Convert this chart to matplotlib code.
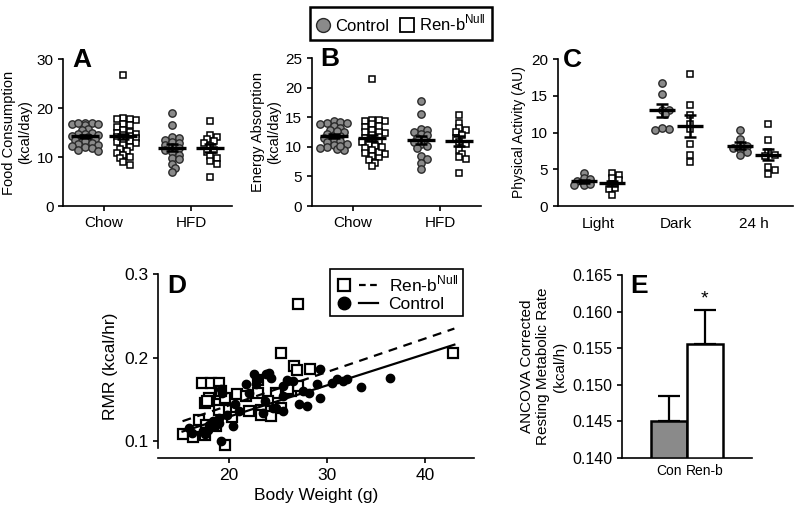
import numpy as np
import matplotlib
matplotlib.use("Agg")
import matplotlib.pyplot as plt
from matplotlib.lines import Line2D
from matplotlib.legend_handler import HandlerTuple

plt.rcParams["font.family"] = ["Liberation Sans", "DejaVu Sans"]
plt.rcParams["mathtext.fontset"] = "custom"
plt.rcParams["mathtext.rm"] = "Liberation Sans"
plt.rcParams["axes.linewidth"] = 1.2
plt.rcParams["xtick.major.width"] = 1.2
plt.rcParams["ytick.major.width"] = 1.2

# ---- data ----
diet_groups = ["Chow", "HFD"]
food_ctrl = [
    [17.0, 16.9, 16.8, 16.6, 16.7, 16.9, 15.8, 15.5, 15.0, 14.8, 14.6, 14.5, 14.2,
     14.0, 13.8, 13.7, 13.5, 13.2, 12.9, 12.7, 12.5, 12.3, 12.0, 11.8, 11.5, 11.2],
    [18.9, 16.5, 14.0, 13.8, 13.5, 13.0, 12.8, 12.5, 12.0, 11.8, 11.5, 11.0, 10.5,
     9.8, 9.5, 8.5, 7.8, 6.9],
]
food_renb = [
    [26.8, 17.9, 17.7, 17.5, 17.8, 16.5, 16.8, 16.2, 15.5, 15.2, 15.0, 14.8, 14.5,
     14.2, 14.0, 13.8, 13.5, 13.2, 13.0, 12.8, 12.5, 12.0, 11.6, 11.2, 10.8, 10.5,
     10.0, 9.7, 9.0, 8.4],
    [17.3, 14.5, 14.0, 13.6, 13.2, 12.8, 12.3, 11.5, 11.0, 10.2, 9.7, 9.2, 8.6, 6.0],
]
food_mean_ctrl = [14.2, 11.9]
food_sem_ctrl = [0.35, 0.7]
food_mean_renb = [14.2, 11.8]
food_sem_renb = [0.6, 0.8]

energy_ctrl = [
    [14.3, 14.2, 14.0, 14.1, 13.5, 13.2, 12.8, 12.5, 12.2, 12.0, 11.8, 11.5, 11.2,
     11.0, 10.8, 10.5, 10.3, 10.0, 9.8, 9.6, 9.5, 10.2, 12.6, 13.8],
    [17.8, 15.5, 13.0, 12.8, 12.5, 12.2, 12.0, 11.5, 11.2, 10.8, 10.5, 10.2, 9.8,
     8.5, 8.0, 7.3, 6.3],
]
energy_renb = [
    [21.5, 14.6, 14.4, 14.3, 14.5, 13.8, 13.3, 12.8, 12.5, 12.3, 12.0, 11.8, 11.5,
     11.2, 11.0, 10.8, 10.5, 10.2, 9.8, 9.5, 9.0, 8.8, 8.5, 8.2, 7.8, 7.3, 6.7, 9.2,
     10.0, 12.6, 13.5],
    [15.3, 14.0, 13.2, 12.8, 12.5, 12.0, 11.5, 10.8, 10.5, 9.5, 8.8, 8.2, 8.0, 5.5],
]
energy_mean_ctrl = [11.8, 11.2]
energy_sem_ctrl = [0.3, 0.7]
energy_mean_renb = [11.5, 11.0]
energy_sem_renb = [0.5, 0.8]

activity_groups = ["Light", "Dark", "24 h"]
activity_ctrl = [
    [4.5, 3.8, 3.7, 3.4, 3.0, 2.8, 2.9, 3.0],
    [16.8, 15.3, 13.0, 13.0, 12.5, 10.5, 10.6, 10.3],
    [10.3, 9.1, 8.3, 8.1, 7.9, 7.7, 7.3, 7.0],
]
activity_renb = [
    [4.5, 4.2, 3.8, 3.5, 3.0, 2.5, 2.3, 1.5],
    [18.0, 13.8, 12.4, 11.2, 10.5, 8.4, 7.0, 6.0],
    [11.2, 9.0, 7.3, 7.0, 6.8, 5.3, 4.9, 4.4],
]
activity_mean_ctrl = [3.4, 13.0, 8.2]
activity_sem_ctrl = [0.2, 0.9, 0.45]
activity_mean_renb = [3.1, 10.9, 7.0]
activity_sem_renb = [0.35, 1.45, 0.8]

renb_bw = [27.1, 25.3, 42.9, 26.7, 27.0, 28.3, 17.3, 18.2, 19.0, 23.0, 18.0, 17.6,
           19.1, 19.6, 20.9, 21.8, 23.0, 24.8, 26.4, 27.1, 24.0, 19.7, 19.0, 22.1,
           23.3, 25.3, 20.3, 23.3, 24.3, 17.0, 17.7, 18.7, 15.3, 16.4, 17.6, 19.6,
           19.2, 17.8, 26.0]
renb_rmr = [0.264, 0.206, 0.206, 0.190, 0.185, 0.186, 0.170, 0.170, 0.170, 0.173,
            0.152, 0.146, 0.156, 0.152, 0.156, 0.154, 0.158, 0.158, 0.160, 0.166,
            0.148, 0.138, 0.137, 0.136, 0.138, 0.140, 0.129, 0.132, 0.130, 0.126,
            0.120, 0.118, 0.109, 0.105, 0.108, 0.095, 0.160, 0.148, 0.162]
ctrl_bw = [29.3, 24.1, 23.8, 22.6, 24.3, 23.0, 25.9, 26.6, 21.8, 25.5, 19.2, 22.1,
           23.7, 25.5, 27.6, 28.2, 29.0, 30.5, 31.0, 31.7, 32.1, 36.4, 33.5, 29.3,
           27.2, 28.0, 20.6, 21.1, 24.5, 25.5, 23.5, 20.4, 19.0, 18.6, 17.4, 16.0,
           16.3, 17.6, 19.2, 19.8, 18.4, 19.3, 22.8, 24.8, 18.0, 17.9, 19.0]
ctrl_rmr = [0.186, 0.182, 0.180, 0.180, 0.176, 0.175, 0.173, 0.172, 0.168, 0.166,
            0.162, 0.158, 0.148, 0.154, 0.160, 0.158, 0.168, 0.170, 0.174, 0.172,
            0.174, 0.176, 0.165, 0.152, 0.145, 0.142, 0.144, 0.136, 0.140, 0.136,
            0.134, 0.118, 0.128, 0.118, 0.112, 0.116, 0.110, 0.109, 0.100, 0.132,
            0.124, 0.158, 0.168, 0.140, 0.120, 0.114, 0.122]
# regression lines (slope, intercept) and x range
renb_fit = (0.0040, 0.0628)
ctrl_fit = (0.00375, 0.0543)
fit_x = [15.3, 43.0]

ancova_groups = ["Con", "Ren-b"]
ancova_mean = [0.1451, 0.1556]
ancova_err = [0.0034, 0.0046]

GRAY = "#8a8a8a"
EDGE = "#2a2a2a"


def swarm_offsets(ax, y, diam_px, overlap=0.62, max_px=16):
    # simple beeswarm: place points top-down, nudging sideways until they stop piling up
    pts = ax.transData.transform(np.column_stack([np.zeros(len(y)), y]))
    ypx = pts[:, 1]
    order = np.argsort(-ypx)
    step = diam_px * 0.45
    min_d = diam_px * overlap
    placed = []
    off = np.zeros(len(y))
    for i in order:
        best = 0.0
        for k in range(200):
            cand = ((k + 1) // 2) * step * (1 if k % 2 else -1)
            if abs(cand) > max_px:
                break
            if all(np.hypot(cand - px, ypx[i] - py) >= min_d for px, py in placed):
                best = cand
                break
        off[i] = best
        placed.append((best, ypx[i]))
    ppu = ax.transData.transform((1, 0))[0] - ax.transData.transform((0, 0))[0]
    return off / ppu


def mean_sem(ax, x, m, s, half=0.15, cap=0.07):
    ax.hlines(m, x - half, x + half, color="black", lw=2.4, zorder=5)
    ax.vlines(x, m - s, m + s, color="black", lw=1.8, zorder=5)
    ax.hlines([m - s, m + s], x - cap, x + cap, color="black", lw=1.8, zorder=5)


def dot_panel(ax, ctrl, renb, mc, sc, mr, sr, shift, half, cap, msize, max_px):
    for i in range(len(ctrl)):
        xc = i - shift
        xr = i + shift
        dc = swarm_offsets(ax, ctrl[i], msize * 1.39, max_px=max_px)
        dr = swarm_offsets(ax, renb[i], msize * 1.39, max_px=max_px)
        ax.plot(xc + dc, ctrl[i], "o", ms=msize, mfc=GRAY, mec=EDGE, mew=1.0, ls="none", zorder=3)
        ax.plot(xr + dr, renb[i], "s", ms=msize * 0.92, mfc="white", mec="black", mew=1.1, ls="none", zorder=3)
        mean_sem(ax, xc, mc[i], sc[i], half, cap)
        mean_sem(ax, xr, mr[i], sr[i], half, cap)


def style(ax):
    ax.spines["top"].set_visible(False)
    ax.spines["right"].set_visible(False)


fig = plt.figure(figsize=(8, 5.2), dpi=100)

# ---- A ----
axA = fig.add_axes([0.079, 0.6038, 0.211, 0.2827])
axA.set_xlim(-0.47, 1.47)
axA.set_ylim(0, 30)
style(axA)
dot_panel(axA, food_ctrl, food_renb, food_mean_ctrl, food_sem_ctrl,
          food_mean_renb, food_sem_renb, 0.22, 0.16, 0.07, 5.3, 15)
axA.set_xticks(range(len(diet_groups)))
axA.set_xticklabels(diet_groups, fontsize=10.5)
axA.set_yticks([0, 10, 20, 30])
axA.tick_params(labelsize=11)
axA.set_ylabel("Food Consumption\n(kcal/day)", fontsize=10.5, labelpad=3)
axA.text(0.053, 0.946, "A", transform=axA.transAxes, fontsize=19, fontweight="bold", va="baseline")

# ---- B ----
axB = fig.add_axes([0.39, 0.6038, 0.211, 0.2846])
axB.set_xlim(-0.47, 1.47)
axB.set_ylim(0, 25)
style(axB)
dot_panel(axB, energy_ctrl, energy_renb, energy_mean_ctrl, energy_sem_ctrl,
          energy_mean_renb, energy_sem_renb, 0.22, 0.16, 0.07, 5.3, 15)
axB.set_xticks(range(len(diet_groups)))
axB.set_xticklabels(diet_groups, fontsize=10.5)
axB.set_yticks([0, 5, 10, 15, 20, 25])
axB.tick_params(labelsize=11)
axB.set_ylabel("Energy Absorption\n(kcal/day)", fontsize=10.5, labelpad=3)
axB.text(0.047, 0.946, "B", transform=axB.transAxes, fontsize=19, fontweight="bold", va="baseline")

# ---- C ----
axC = fig.add_axes([0.6975, 0.6038, 0.294, 0.2827])
axC.set_xlim(-0.51, 2.5)
axC.set_ylim(0, 20)
style(axC)
dot_panel(axC, activity_ctrl, activity_renb, activity_mean_ctrl, activity_sem_ctrl,
          activity_mean_renb, activity_sem_renb, 0.18, 0.17, 0.08, 5.3, 12)
axC.set_xticks(range(len(activity_groups)))
axC.set_xticklabels(activity_groups, fontsize=11)
axC.tick_params(axis="x", length=0, pad=8)
axC.set_yticks([0, 5, 10, 15, 20])
axC.tick_params(labelsize=11)
axC.set_ylabel("Physical Activity (AU)", fontsize=10, labelpad=4)
axC.text(0.02, 0.946, "C", transform=axC.transAxes, fontsize=19, fontweight="bold", va="baseline")

# ---- D ----
axD = fig.add_axes([0.1975, 0.1192, 0.395, 0.3538])
axD.set_xlim(12.8, 45)
axD.set_ylim(0.08, 0.3)
style(axD)
axD.spines["left"].set_bounds(0.092, 0.3)
axD.plot(renb_bw, renb_rmr, "s", ms=7, mfc="white", mec="black", mew=1.6, ls="none", zorder=3)
axD.plot(ctrl_bw, ctrl_rmr, "o", ms=6, mfc="black", mec="black", ls="none", zorder=4)
fx = np.array(fit_x)
axD.plot(fx, renb_fit[0] * fx + renb_fit[1], color="black", lw=1.6, ls=(0, (4, 3)), zorder=5)
axD.plot(fx, ctrl_fit[0] * fx + ctrl_fit[1], color="black", lw=1.6, zorder=5)
axD.set_xticks([20, 30, 40])
axD.set_yticks([0.1, 0.2, 0.3])
axD.set_yticklabels(["0.1", "0.2", "0.3"])
axD.tick_params(labelsize=12.5)
axD.set_xlabel("Body Weight (g)", fontsize=12.5)
axD.set_ylabel("RMR (kcal/hr)", fontsize=12.5)
axD.text(0.028, 0.897, "D", transform=axD.transAxes, fontsize=19, fontweight="bold", va="baseline")
h_r = (Line2D([], [], marker="s", ms=9, mfc="white", mec="black", mew=1.6, ls="none"),
       Line2D([], [], color="black", lw=1.6, ls=(0, (3, 2))))
h_c = (Line2D([], [], marker="o", ms=9, mfc="black", mec="black", ls="none"),
       Line2D([], [], color="black", lw=1.6))
legD = axD.legend([h_r, h_c], [r"Ren-b$^{\mathrm{Null}}$", "Control"],
                  handler_map={tuple: HandlerTuple(ndivide=None, pad=0.25)},
                  loc="upper right", bbox_to_anchor=(0.975, 1.045), fontsize=12.5,
                  handlelength=2.5, handletextpad=0.6, borderpad=0.25, labelspacing=0.15,
                  borderaxespad=0.2, fancybox=False, framealpha=1)
legD.get_frame().set_edgecolor("black")
legD.get_frame().set_linewidth(1.2)

# ---- E ----
axE = fig.add_axes([0.7775, 0.1192, 0.1625, 0.352])
axE.set_xlim(-1.33, 2.33)
axE.set_ylim(0.140, 0.165)
style(axE)
axE.bar([0, 1], [m - 0.140 for m in ancova_mean], bottom=0.140, width=1.0,
        color=[GRAY, "white"], edgecolor="black", linewidth=1.8, zorder=3)
axE.errorbar([0, 1], ancova_mean, yerr=[[0, 0], ancova_err], fmt="none",
             ecolor="black", elinewidth=1.6, capsize=8, capthick=1.6, zorder=2)
axE.text(1, ancova_mean[1] + ancova_err[1] + 0.0003, "*", ha="center", va="bottom", fontsize=14)
axE.set_xticks([0, 1])
axE.set_xticklabels(ancova_groups, fontsize=10)
axE.tick_params(axis="x", length=0, pad=4)
axE.set_yticks([0.140, 0.145, 0.150, 0.155, 0.160, 0.165])
axE.set_yticklabels([f"{v:.3f}" for v in [0.140, 0.145, 0.150, 0.155, 0.160, 0.165]])
axE.tick_params(axis="y", labelsize=11.5)
axE.set_ylabel("ANCOVA Corrected\nResting Metabolic Rate\n(kcal/h)", fontsize=11, labelpad=4)
axE.text(0.06, 0.90, "E", transform=axE.transAxes, fontsize=19, fontweight="bold", va="baseline")

# ---- top legend ----
h1 = Line2D([], [], marker="o", ms=10, mfc=GRAY, mec=EDGE, mew=1.0, ls="none")
h2 = Line2D([], [], marker="s", ms=10, mfc="white", mec="black", mew=1.3, ls="none")
leg = fig.legend([h1, h2], ["Control", r"Ren-b$^{\mathrm{Null}}$"], ncol=2,
                 loc="center", bbox_to_anchor=(0.501, 0.955), fontsize=12,
                 handlelength=0.9, handletextpad=0.3, columnspacing=0.6,
                 borderpad=0.35, fancybox=False, framealpha=1)
leg.get_frame().set_edgecolor("black")
leg.get_frame().set_linewidth(1.8)

fig.savefig("out.png", dpi=100)
